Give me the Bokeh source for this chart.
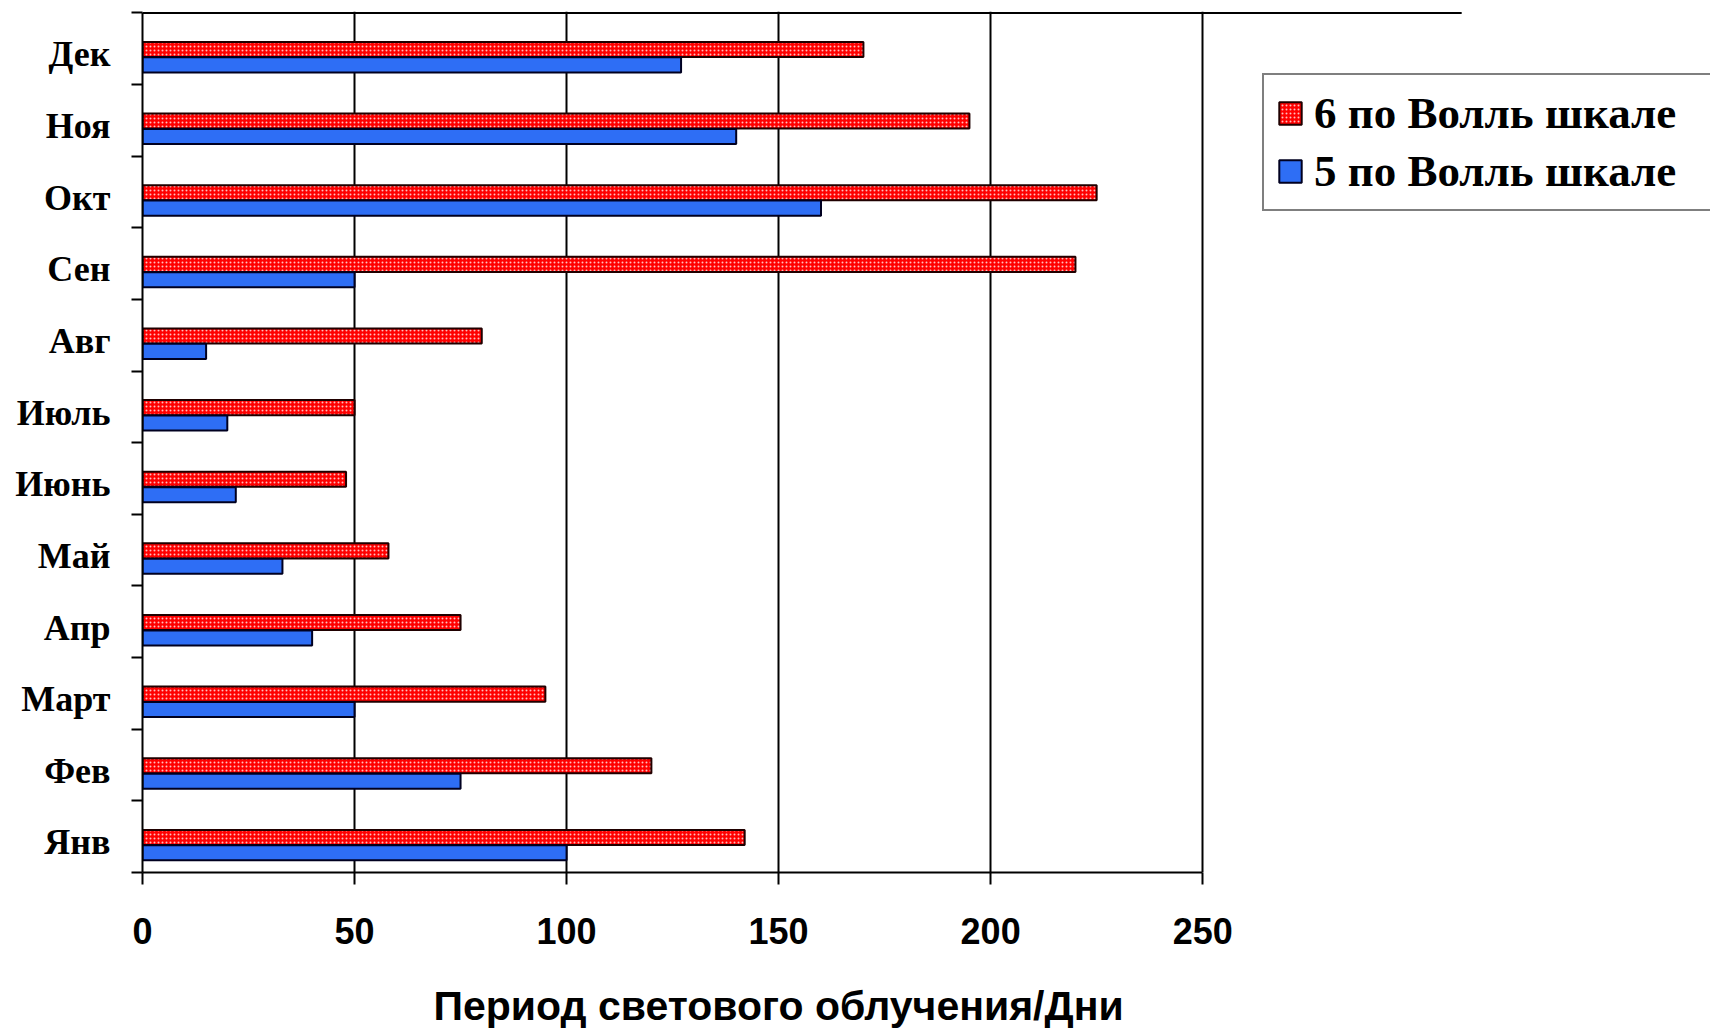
from bokeh.plotting import figure
from bokeh.models import Range1d, FixedTicker, Legend, LegendItem, LinearAxis, Title
from bokeh.embed import file_html
from bokeh.resources import INLINE

# Months, bottom to top
months = ["Янв", "Фев", "Март", "Апр", "Май", "Июнь", "Июль", "Авг", "Сен", "Окт", "Ноя", "Дек"]
# Days of exposure per month
scale6 = [142, 120, 95, 75, 58, 48, 50, 80, 220, 225, 195, 170]
scale5 = [100, 75, 50, 40, 33, 22, 20, 15, 50, 160, 140, 127]
series_names = ["6 по Волль шкале", "5 по Волль шкале"]
x_ticks = [0, 50, 100, 150, 200, 250]
x_title = "Период светового облучения/Дни"

n = len(months)
pos = list(range(n))
x_max = x_ticks[-1]
x_view_end = x_max * 1.479      # frame runs on to the right edge, legend sits there
top_rule_end = x_max * 1.2443   # the upper rule stops short of the legend

# Each month band is [i - 0.5 + s, i + 0.5 + s]; labels sit a little below band centre
s = 0.08
band_lo = -0.5 + s
band_hi = n - 0.5 + s

RED = "#ff0000"
BLUE = "#2e6ef5"
SERIF = "Liberation Serif"
SANS = "Liberation Sans"

p = figure(width=1710, height=1030, output_backend="svg", toolbar_location=None,
           x_range=Range1d(0, x_view_end), y_range=Range1d(band_lo, band_hi + 0.02),
           min_border_left=142, min_border_right=0, min_border_top=11,
           min_border_bottom=158, background_fill_color="white",
           border_fill_color="white", outline_line_color=None)

bar_h = 0.21
red_y = [i + s - 0.01 for i in pos]
blue_y = [i + s - 0.225 for i in pos]

r6 = p.hbar(y=red_y, left=0, right=scale6, height=bar_h, fill_color=RED,
            line_color="#200000", line_width=2, hatch_pattern="dot",
            hatch_color="white", hatch_alpha=0.75, hatch_scale=4, hatch_weight=1)
r5 = p.hbar(y=blue_y, left=0, right=scale5, height=bar_h, fill_color=BLUE,
            line_color="#000020", line_width=2)

# upper rule of the plot area
p.segment(x0=[0], x1=[top_rule_end], y0=[band_hi], y1=[band_hi],
          line_color="black", line_width=2)

# x axis
xa = p.xaxis[0]
xa.ticker = FixedTicker(ticks=x_ticks)
xa.bounds = (0, x_max)
xa.axis_line_color = "black"
xa.axis_line_width = 2
xa.major_tick_in = 0
xa.major_tick_out = 12
xa.major_tick_line_width = 2
xa.minor_tick_line_color = None
xa.major_label_text_font = SANS
xa.major_label_text_font_style = "bold"
xa.major_label_text_font_size = "36px"
xa.major_label_text_color = "black"
xa.major_label_standoff = 33

# blank strip between the tick labels and the x title (one invisible tick)
spacer = LinearAxis(ticker=FixedTicker(ticks=[x_max]), axis_line_color=None,
                    major_tick_line_color=None, minor_tick_line_color=None,
                    major_tick_in=0, major_tick_out=34, minor_tick_in=0,
                    minor_tick_out=0, major_label_standoff=0,
                    major_label_overrides={x_max: ""})
p.add_layout(spacer, "below")

p.add_layout(Title(text=x_title, align="left", offset=291, standoff=0,
                   vertical_align="bottom", text_font=SANS, text_font_style="bold",
                   text_font_size="41px", text_color="black"), "below")

# y axis: labels per month, ticks at band boundaries
ya = p.yaxis[0]
ya.ticker = FixedTicker(ticks=pos, minor_ticks=[i - 0.5 + s for i in range(n + 1)])
ya.major_label_overrides = {i: m for i, m in enumerate(months)}
ya.bounds = (band_lo, band_hi)
ya.axis_line_color = "black"
ya.axis_line_width = 2
ya.major_tick_in = 0
ya.major_tick_out = 0
ya.major_tick_line_color = None
ya.minor_tick_in = 0
ya.minor_tick_out = 11
ya.minor_tick_line_color = "black"
ya.minor_tick_line_width = 2
ya.major_label_text_font = SERIF
ya.major_label_text_font_style = "bold"
ya.major_label_text_font_size = "36px"
ya.major_label_text_color = "black"
ya.major_label_standoff = 21

p.xgrid.ticker = FixedTicker(ticks=x_ticks[1:])
p.xgrid.grid_line_color = "black"
p.xgrid.grid_line_width = 2
p.ygrid.visible = False

legend = Legend(items=[LegendItem(label=series_names[0], renderers=[r6]),
                       LegendItem(label=series_names[1], renderers=[r5])],
                location=(1120, 661), orientation="vertical",
                label_text_font=SERIF, label_text_font_style="bold",
                label_text_font_size="45px", label_text_color="black",
                glyph_width=28, glyph_height=28, label_standoff=10,
                label_width=440, padding=12, spacing=6, margin=0,
                border_line_color="black", border_line_width=2,
                background_fill_color="white", background_fill_alpha=1)
p.add_layout(legend)

open("out.html", "w").write(file_html(p, INLINE))
